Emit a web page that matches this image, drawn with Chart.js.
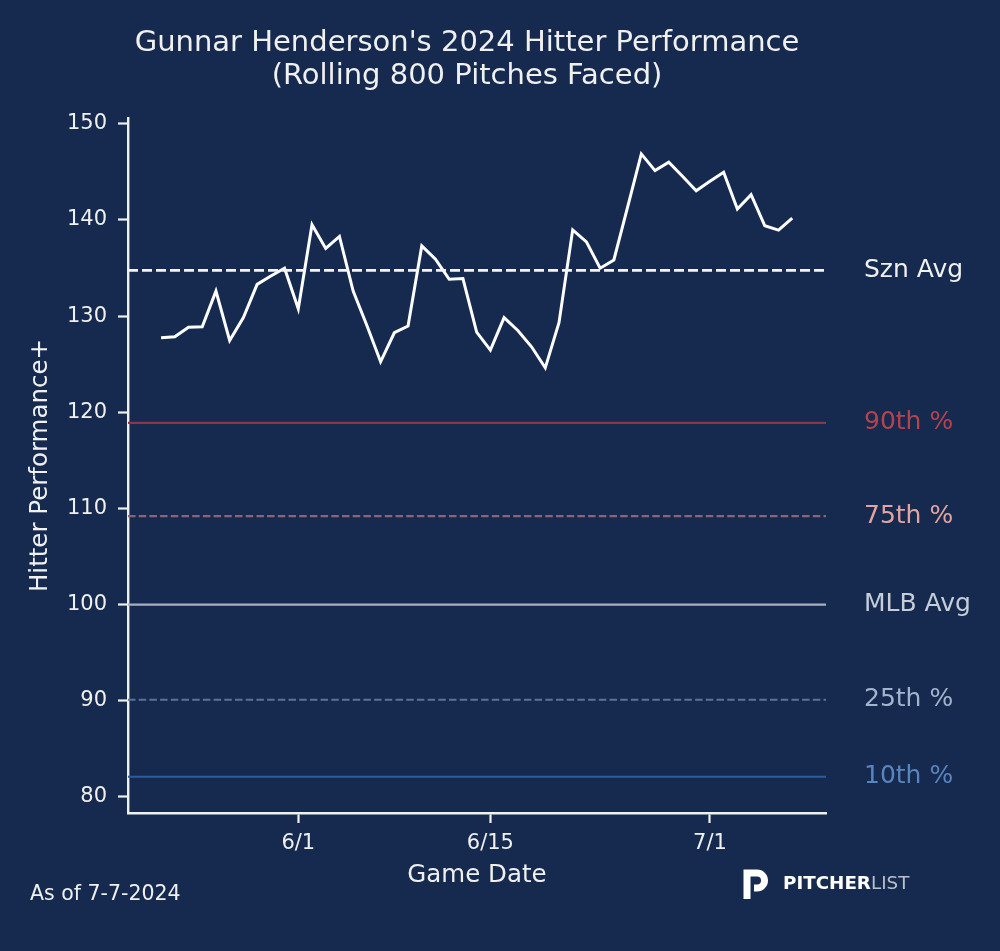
<!DOCTYPE html>
<html>
<head>
<meta charset="utf-8">
<script src="https://cdn.jsdelivr.net/npm/chart.js@4.4.1/dist/chart.umd.min.js"></script>
<style>
  html, body { margin: 0; padding: 0; background: #152a4e; }
  #wrap { width: 1000px; height: 951px; position: relative; }
</style>
</head>
<body>
<div id="wrap"><canvas id="c"></canvas></div>
<script>
// ---- data ----
const dates = ['5/22','5/23','5/24','5/25','5/26','5/27','5/28','5/29','5/30','5/31',
  '6/1','6/2','6/3','6/4','6/5','6/6','6/7','6/8','6/9','6/10','6/11','6/12','6/13','6/14','6/15',
  '6/16','6/17','6/18','6/19','6/20','6/21','6/22','6/23','6/24','6/25','6/26','6/27','6/28','6/29','6/30',
  '7/1','7/2','7/3','7/4','7/5','7/6','7/7'];
const hitterPerf = [127.75,127.85,128.85,128.9,132.6,127.47,129.84,133.3,134.17,134.98,
  130.77,139.5,137.03,138.29,132.6,129.03,125.25,128.27,128.96,137.3,135.92,133.83,133.9,128.33,126.46,
  129.84,128.51,126.81,124.62,129.31,138.97,137.72,134.98,135.84,141.34,146.87,145.13,146.0,144.54,143.04,
  144.02,144.96,141.13,142.62,139.39,138.94,140.19];
const refNames  = ['Szn Avg','90th %','75th %','MLB Avg','25th %','10th %'];
const refValues = [134.75, 118.9, 109.2, 100.0, 90.1, 82.1];
const xTickLabels = ['6/1','6/15','7/1'];
const yTickValues = [80,90,100,110,120,130,140,150];

// ---- styling ----
const refStyles = [
  { line: '#f4f4f4', text: '#f0f0f0', dash: [10,4], width: 2.8 },
  { line: '#8c3646', text: '#b5434e', dash: [], width: 2.1 },
  { line: '#8a6578', text: '#e2a3a1', dash: [7.5,3.2], width: 2.1 },
  { line: '#a8b0bf', text: '#c6ced9', dash: [], width: 2.1 },
  { line: '#5a7496', text: '#a2b4ce', dash: [7.5,3.2], width: 2.1 },
  { line: '#2d5c9d', text: '#5a84bd', dash: [], width: 2.1 }
];
const BG = '#152a4e';
const FG = '#f0f0f0';

function dayOffset(s) {
  const [m, d] = s.split('/').map(Number);
  if (m === 5) return d - 32;
  if (m === 6) return d - 1;
  return d + 29;
}
const X_MIN = -12.41, X_MAX = 38.46;

const datasets = [];
refValues.forEach((v, i) => {
  datasets.push({
    data: [{ x: X_MIN, y: v }, { x: X_MAX, y: v }],
    borderColor: refStyles[i].line,
    borderWidth: refStyles[i].width,
    borderDash: refStyles[i].dash,
    pointRadius: 0,
    order: i === 0 ? 0 : 2
  });
});
datasets.push({
  data: dates.map((d, i) => ({ x: dayOffset(d), y: hitterPerf[i] })),
  borderColor: '#ffffff',
  borderWidth: 3,
  pointRadius: 0,
  tension: 0,
  order: 1
});

const decor = {
  id: 'decor',
  beforeDraw(chart) {
    const ctx = chart.ctx;
    ctx.save();
    ctx.fillStyle = BG;
    ctx.fillRect(0, 0, chart.width, chart.height);
    ctx.restore();
  },
  afterDraw(chart) {
    const ctx = chart.ctx;
    const y = chart.scales.y;
    const area = chart.chartArea;
    ctx.save();
    ctx.fillStyle = FG;
    ctx.textAlign = 'center';
    ctx.textBaseline = 'middle';
    ctx.font = '29px "DejaVu Sans"';
    ctx.fillText("Gunnar Henderson's 2024 Hitter Performance", 467, 43);
    ctx.fillText('(Rolling 800 Pitches Faced)', 467, 76);

    ctx.font = '24.5px "DejaVu Sans"';
    ctx.fillText('Game Date', (area.left + area.right) / 2, 876);
    ctx.save();
    ctx.translate(41, (area.top + area.bottom) / 2);
    ctx.rotate(-Math.PI / 2);
    ctx.fillText('Hitter Performance+', 0, 0);
    ctx.restore();

    ctx.font = '25px "DejaVu Sans"';
    ctx.textAlign = 'left';
    refNames.forEach((n, i) => {
      ctx.fillStyle = refStyles[i].text;
      ctx.fillText(n, 864, y.getPixelForValue(refValues[i]));
    });

    ctx.fillStyle = FG;
    ctx.font = '20.5px "DejaVu Sans"';
    ctx.fillText('As of 7-7-2024', 30, 895);

    // logo
    ctx.strokeStyle = '#ffffff';
    ctx.lineWidth = 7;
    ctx.lineCap = 'butt';
    ctx.beginPath();
    ctx.moveTo(747, 899);
    ctx.lineTo(747, 873);
    ctx.lineTo(757, 873);
    ctx.arc(757, 880.5, 7.5, -Math.PI / 2, Math.PI / 2);
    ctx.lineTo(754, 888);
    ctx.stroke();
    ctx.font = 'bold 18.3px "DejaVu Sans"';
    ctx.fillStyle = '#ffffff';
    ctx.fillText('PITCHER', 783, 884);
    const w = ctx.measureText('PITCHER').width;
    ctx.fillStyle = '#b9c0cc';
    ctx.font = '18.3px "DejaVu Sans"';
    ctx.fillText('LIST', 783 + w, 884);
    ctx.restore();
  }
};

new Chart(document.getElementById('c'), {
  type: 'line',
  data: { datasets },
  plugins: [decor],
  options: {
    responsive: true,
    maintainAspectRatio: false,
    animation: false,
    devicePixelRatio: 1,
    layout: { padding: { top: 118, right: 174, left: 0, bottom: 0 } },
    plugins: { legend: { display: false }, tooltip: { enabled: false }, title: { display: false } },
    scales: {
      x: {
        type: 'linear',
        min: X_MIN, max: X_MAX,
        afterFit(s) { s.height = 138; },
        afterBuildTicks(s) { s.ticks = xTickLabels.map(t => ({ value: dayOffset(t) })); },
        ticks: {
          color: FG, font: { family: 'DejaVu Sans', size: 21 }, padding: 8,
          maxRotation: 0, autoSkip: false,
          callback(v) { const i = xTickLabels.findIndex(t => dayOffset(t) === v); return i >= 0 ? xTickLabels[i] : ''; }
        },
        grid: { drawOnChartArea: false, drawTicks: true, tickLength: 10, tickColor: FG, tickWidth: 2.2 },
        border: { display: true, color: FG, width: 2.4 }
      },
      y: {
        type: 'linear',
        min: 78.33, max: 150.6,
        afterFit(s) { s.width = 128; },
        afterBuildTicks(s) { s.ticks = yTickValues.map(v => ({ value: v })); },
        ticks: { color: FG, font: { family: 'DejaVu Sans', size: 21 }, padding: 11 },
        grid: { drawOnChartArea: false, drawTicks: true, tickLength: 10, tickColor: FG, tickWidth: 2.2 },
        border: { display: true, color: FG, width: 2.4 }
      }
    }
  }
});
</script>
</body>
</html>
